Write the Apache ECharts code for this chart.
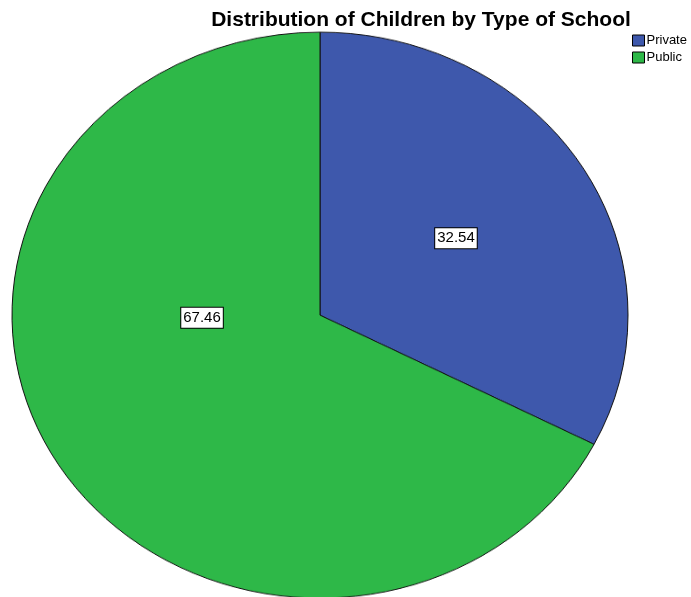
<!DOCTYPE html>
<html>
<head>
<meta charset="utf-8">
<script src="https://cdn.jsdelivr.net/npm/echarts@6/dist/echarts.min.js"></script>
<style>
html,body{margin:0;padding:0;background:#fff;overflow:hidden;width:691px;height:597px;}
#pie{position:absolute;left:0;top:0;width:691px;height:660px;transform:scaleY(0.9188);transform-origin:0 0;}
#overlay{position:absolute;left:0;top:0;width:691px;height:597px;pointer-events:none;}
</style>
</head>
<body>
<div id="pie"></div>
<div id="overlay"></div>
<script>
const categories = ['Private', 'Public'];
const values = [32.54, 67.46];
const colors = ['#3E58AC', '#2EB848'];
const titleText = 'Distribution of Children by Type of School';

const data = categories.map((c, i) => ({ name: c, value: values[i], itemStyle: { color: colors[i] } }));

// Elliptical pie: drawn as a normal pie in a vertically scaled container
const pieChart = echarts.init(document.getElementById('pie'), null, { renderer: 'canvas' });
pieChart.setOption({
  animation: false,
  series: [{
    type: 'pie',
    center: [320, 343],
    radius: 308,
    startAngle: 90,
    clockwise: true,
    data: data,
    itemStyle: { borderColor: '#111', borderWidth: 1 },
    label: { show: false },
    labelLine: { show: false },
    emphasis: { disabled: true }
  }]
});

// Unscaled overlay: title, legend and value labels (slices transparent)
const overlayData = categories.map((c, i) => ({ name: c, value: values[i], itemStyle: { color: 'rgba(0,0,0,0)' } }));
const overlayChart = echarts.init(document.getElementById('overlay'), null, { renderer: 'canvas' });
overlayChart.setOption({
  animation: false,
  title: {
    text: titleText,
    left: 416,
    textAlign: 'center',
    top: 5,
    textStyle: { fontFamily: 'Liberation Sans, Arial, sans-serif', fontWeight: 'bold', fontSize: 21, color: '#000' }
  },
  legend: {
    orient: 'vertical',
    left: 627,
    top: 29,
    itemWidth: 12,
    itemHeight: 11,
    itemGap: 4,
    icon: 'rect',
    data: categories.map((c, i) => ({ name: c, itemStyle: { color: colors[i] } })),
    textStyle: { fontFamily: 'Liberation Sans, Arial, sans-serif', fontSize: 13, color: '#000', padding: [0, 0, 0, -3] },
    itemStyle: { borderColor: '#000', borderWidth: 1 }
  },
  series: [{
    type: 'pie',
    center: [320, 315],
    radius: 308,
    startAngle: 90,
    clockwise: true,
    silent: true,
    data: overlayData,
    label: {
      show: true,
      position: 'inside',
      formatter: p => p.value.toFixed(2),
      color: '#000',
      fontFamily: 'Liberation Sans, Arial, sans-serif',
      fontSize: 15,
      backgroundColor: '#fff',
      borderColor: '#000',
      borderWidth: 1,
      padding: [3, 2, 2, 2]
    },
    labelLine: { show: false },
    labelLayout: p => p.dataIndex === 1 ? { dx: 16, dy: -79 } : { dx: 2, dy: 5 },
    emphasis: { disabled: true }
  }]
});
</script>
</body>
</html>
